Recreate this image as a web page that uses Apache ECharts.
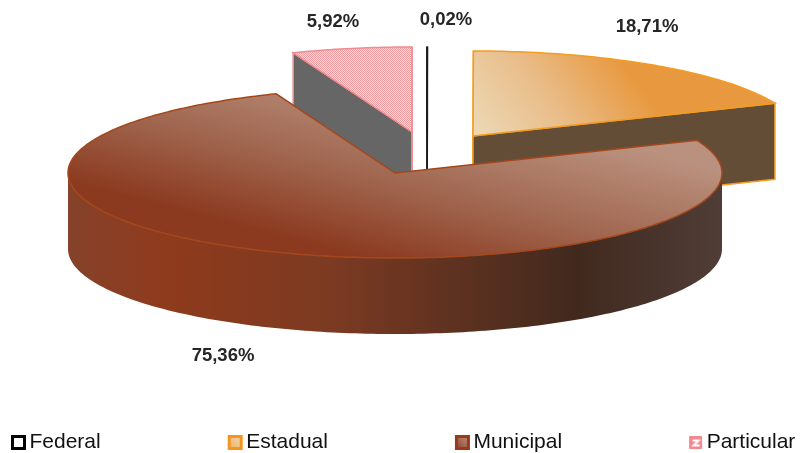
<!DOCTYPE html>
<html>
<head>
<meta charset="utf-8">
<style>html,body{margin:0;padding:0;background:#fff}#c{width:804px;height:453px}</style>
<script src="https://cdn.jsdelivr.net/npm/echarts@6/dist/echarts.min.js"></script>
</head>
<body>
<div id="c"></div>
<script>
// ---- data ----
const categories = ['Federal', 'Estadual', 'Municipal', 'Particular'];
const values = [0.02, 18.71, 75.36, 5.92];

// ---- presentation ----
const explodeX = [32, 78, 0, 17];
const explodeY = [-41, -37, 0, -41];
const labelX = [446, 647, 223, 333];
const labelY = [20, 27, 356, 22];
const drawOrder = [0, 1, 3, 2];

const CX = 395, CY = 173, RX = 327, RY = 85, DEPTH = 76;

function hatch(size, paint) {
  const c = document.createElement('canvas');
  c.width = c.height = size;
  paint(c.getContext('2d'), size);
  return { image: c, repeat: 'repeat' };
}
const fineHatch = hatch(2, (g, s) => {
  g.fillStyle = '#f9dcdc'; g.fillRect(0, 0, s, s);
  g.fillStyle = '#ee9ba0';
  g.fillRect(0, 0, 1, 1); g.fillRect(1, 1, 1, 1);
});
const coarseHatch = hatch(13, (g, s) => {
  g.fillStyle = '#f4888f'; g.fillRect(0, 0, s, s);
  g.strokeStyle = '#fff'; g.lineWidth = 2;
  g.beginPath(); g.moveTo(3, 4); g.lineTo(9, 4); g.lineTo(4, 9); g.lineTo(10, 9); g.stroke();
});
const lin = (x, y, x2, y2, stops, global) => ({
  type: 'linear', x, y, x2, y2, global: !!global,
  colorStops: stops.map(c => ({ offset: c[0], color: c[1] }))
});

const looks = [
  { top: '#fff', stroke: '#1a1a1a', lw: 1.5, face: '#fff', wall: '#fff', faceStroke: '#1a1a1a' },
  { top: lin(480, 140, 610, 45, [[0, '#ecd9b6'], [0.5, '#e9bc88'], [1, '#e8993f']], true),
    stroke: '#f39c1f', lw: 1.5, face: '#634d36', wall: '#634d36', faceStroke: '#f39c1f' },
  { top: lin(425, 95, 382, 262, [[0, '#ba917e'], [0.55, '#a0654e'], [1, '#8b3a1f']], true),
    stroke: '#a4481c', lw: 1.5, face: '#8b3a1f', faceStroke: 'none',
    wall: lin(0, 0, 1, 0, [[0, '#86422b'], [0.15, '#8f3a1c'], [0.4, '#7c3a22'], [0.78, '#41291e'], [1, '#4f3d37']]) },
  { top: fineHatch, stroke: '#f08a90', lw: 1.5, face: '#666666', wall: '#666666', faceStroke: '#f08a90' }
];

// Clockwise angle from 12 o'clock, flattened onto the tilted disc.
function rim(deg, ox, oy, down) {
  const a = deg * Math.PI / 180;
  return [CX + ox + RX * Math.sin(a), CY + oy - RY * Math.cos(a) + (down || 0)];
}
function arc(from, to, ox, oy, down) {
  const pts = [], n = Math.max(2, Math.ceil(Math.abs(to - from)));
  for (let i = 0; i <= n; i++) pts.push(rim(from + (to - from) * i / n, ox, oy, down));
  return pts;
}

const total = values.reduce((a, b) => a + b, 0);
const starts = values.map((v, i) => values.slice(0, i).reduce((a, b) => a + b, 0) / total * 360);

function renderSlice(i) {
  return function (params, api) {
    const value = api.value(0);
    const s = starts[i], e = s + value / total * 360;
    const ox = explodeX[i], oy = explodeY[i], k = looks[i];
    const apex = [CX + ox, CY + oy], apexD = [apex[0], apex[1] + DEPTH];
    const children = [];
    const face = (deg) => ({
      type: 'polygon', silent: true,
      shape: { points: [apex, rim(deg, ox, oy), rim(deg, ox, oy, DEPTH), apexD] },
      style: { fill: k.face, stroke: k.faceStroke, lineWidth: k.lw }
    });
    children.push(face(s), face(e));
    const ws = Math.max(s, 90), we = Math.min(e, 270);
    if (we > ws) {
      children.push({
        type: 'polygon', silent: true,
        shape: { points: arc(ws, we, ox, oy).concat(arc(we, ws, ox, oy, DEPTH)) },
        style: { fill: k.wall, stroke: 'none' }
      });
    }
    children.push({
      type: 'polygon', silent: true,
      shape: { points: [apex].concat(arc(s, e, ox, oy)) },
      style: { fill: k.top, stroke: k.stroke, lineWidth: k.lw, lineJoin: 'miter' }
    });
    children.push({
      type: 'text', silent: true, x: labelX[i], y: labelY[i],
      style: {
        text: value.toFixed(2).replace('.', ',') + '%',
        font: 'bold 18.5px "Liberation Sans", Arial, sans-serif',
        fill: '#262626', align: 'center', verticalAlign: 'middle'
      }
    });
    return { type: 'group', children };
  };
}

const legendStyles = [
  { color: '#fff', borderColor: '#000', borderWidth: 3 },
  { color: lin(1, 0, 0, 1, [[0, '#ecd9b6'], [1, '#f0b060']]), borderColor: '#f7941e', borderWidth: 3 },
  { color: lin(1, 0, 0, 1, [[0, '#c09a88'], [1, '#8b3a1f']]), borderColor: '#9a3a1c', borderWidth: 3 },
  { color: coarseHatch, borderColor: '#f4888f', borderWidth: 1 }
];

const chart = echarts.init(document.getElementById('c'), null, { renderer: 'canvas', width: 804, height: 453 });
chart.setOption({
  animation: false,
  backgroundColor: '#fff',
  tooltip: { show: false },
  legend: {
    left: 11, top: 432, padding: 0, itemGap: 127, itemWidth: 12, itemHeight: 12,
    selectedMode: false,
    textStyle: { fontFamily: '"Liberation Sans", Arial, sans-serif', fontSize: 21, color: '#111' },
    data: categories.map((name, i) => ({ name, icon: 'rect', itemStyle: legendStyles[i] }))
  },
  series: drawOrder.map(i => ({
    type: 'custom',
    name: categories[i],
    coordinateSystem: 'none',
    silent: true,
    data: [[values[i]]],
    renderItem: renderSlice(i)
  }))
});
</script>
</body>
</html>
